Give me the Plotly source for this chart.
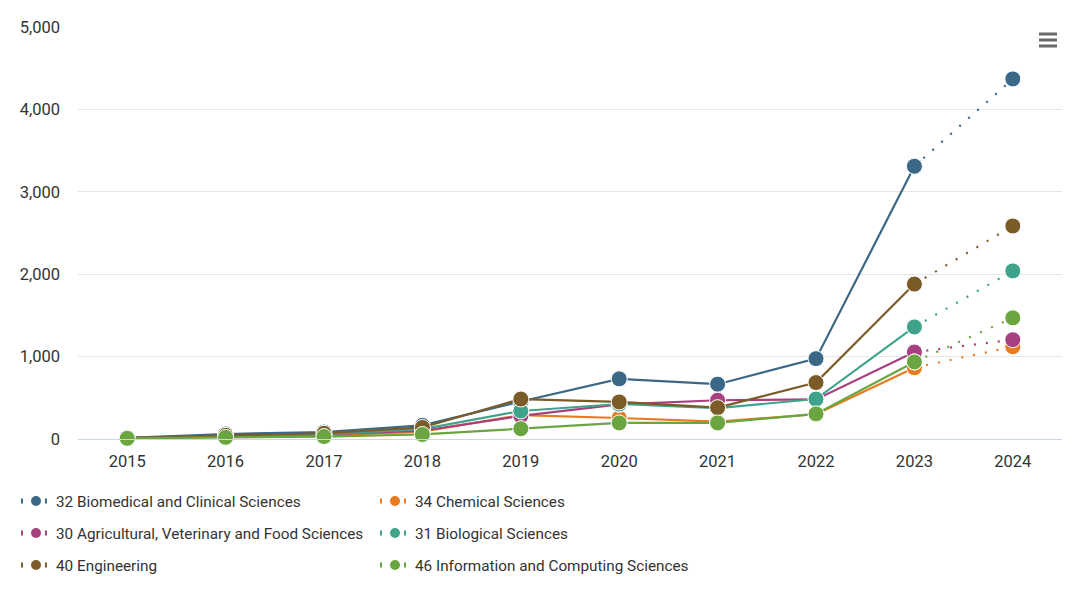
import plotly.graph_objects as go

years = ["2015", "2016", "2017", "2018", "2019", "2020", "2021", "2022", "2023", "2024"]

series_names = [
    "32 Biomedical and Clinical Sciences",
    "34 Chemical Sciences",
    "30 Agricultural, Veterinary and Food Sciences",
    "31 Biological Sciences",
    "40 Engineering",
    "46 Information and Computing Sciences",
]

biomedical = [15, 60, 85, 165, 455, 730, 665, 975, 3310, 4370]
chemical = [10, 30, 45, 90, 290, 255, 210, 300, 865, 1120]
agricultural = [12, 35, 55, 100, 280, 420, 470, 480, 1055, 1205]
biological = [12, 40, 60, 120, 340, 425, 375, 485, 1360, 2040]
engineering = [14, 45, 70, 140, 485, 450, 380, 685, 1880, 2585]
information = [8, 20, 30, 55, 125, 195, 195, 305, 935, 1470]

series_values = [biomedical, chemical, agricultural, biological, engineering, information]
colors = ["#3a6886", "#e97a1f", "#a8407f", "#3fa38b", "#7b5b28", "#6aa53f"]

y_ticks = [0, 1000, 2000, 3000, 4000, 5000]

# page has an 8px body margin: figure coords = page coords - 8
OFF = 8
W, H = 1080 - OFF, 593 - OFF
L, R, T, B = 78 - OFF, 18, 27 - OFF, 154

# legend positions (figure px)
legend_pos = [(8, 493), (367, 493), (8, 525), (367, 525), (8, 557), (367, 557)]

fig = go.Figure()
for i, (name, vals, col) in enumerate(zip(series_names, series_values, colors)):
    lg = "legend" if i == 0 else f"legend{i+1}"
    marker = dict(size=16, color=col, line=dict(color="white", width=1))
    fig.add_trace(go.Scatter(
        x=years[:-1], y=vals[:-1], mode="lines+markers", name=name,
        line=dict(color=col, width=2.2), marker=marker, showlegend=False,
        cliponaxis=False, legendgroup=name, hoverinfo="x+y+name",
    ))
    fig.add_trace(go.Scatter(
        x=years[-2:], y=vals[-2:], mode="lines+markers", name=name,
        line=dict(color=col, width=2.2, dash="2px,10px"), marker=marker,
        showlegend=True, legend=lg, cliponaxis=False, legendgroup=name,
        hoverinfo="x+y+name",
    ))

layout = dict(
    width=W, height=H,
    margin=dict(l=L, r=R, t=T, b=B, autoexpand=False),
    paper_bgcolor="white", plot_bgcolor="white",
    font=dict(family="Roboto, sans-serif", size=16, color="#333333"),
    xaxis=dict(
        type="category", categoryorder="array", categoryarray=years,
        range=[-0.5, 9.5], showgrid=False, zeroline=False,
        showline=True, linecolor="#ccd6eb", linewidth=1,
        ticks="", ticklabelstandoff=7, tickangle=0,
        tickfont=dict(size=16.5, color="#333333"),
        automargin=False,
    ),
    yaxis=dict(
        range=[0, 5000], tickvals=y_ticks, tickformat=",d",
        showgrid=True, gridcolor="#e6e6e6", gridwidth=1,
        zeroline=False, showline=False, ticks="",
        ticklabelstandoff=17, automargin=False,
        tickfont=dict(size=16.5, color="#333333"),
    ),
    showlegend=True,
)

for i, (px, py) in enumerate(legend_pos):
    key = "legend" if i == 0 else f"legend{i+1}"
    layout[key] = dict(
        xref="container", yref="container",
        x=px / W, y=1 - py / H, xanchor="left", yanchor="middle",
        bgcolor="rgba(0,0,0,0)", borderwidth=0,
        font=dict(family="Roboto, sans-serif", size=15.3, color="#333333"),
        itemsizing="constant",
    )

fig.update_layout(**layout)

# hamburger menu icon (page px converted to paper coords)
pw = W - L - R
ph = H - T - B
for yy in [34, 40, 46]:
    fy = yy - OFF
    fig.add_shape(
        type="line", xref="paper", yref="paper",
        x0=(1039 - OFF - L) / pw, x1=(1057 - OFF - L) / pw,
        y0=(H - B - fy) / ph, y1=(H - B - fy) / ph,
        line=dict(color="#666666", width=3),
    )

fig.write_html("out.html")
